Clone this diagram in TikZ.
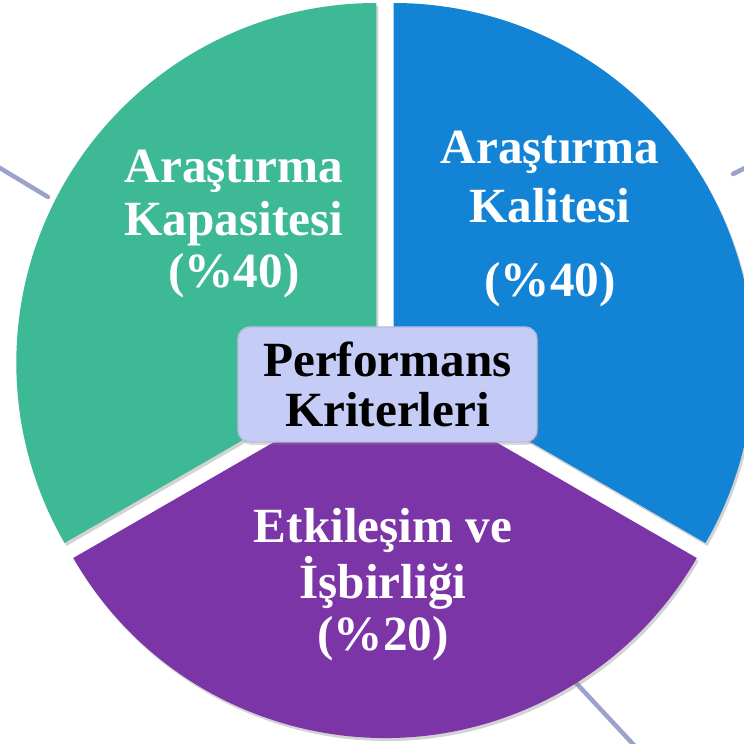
\documentclass[tikz,border=0pt]{standalone}
\usepackage{fontspec}
\setmainfont{Liberation Serif}
\usetikzlibrary{shadows}

\definecolor{kapasite}{RGB}{61,185,149}
\definecolor{kalite}{RGB}{19,131,214}
\definecolor{etkilesim}{RGB}{123,53,167}
\definecolor{kriter}{RGB}{197,204,246}
\definecolor{spokegray}{RGB}{155,163,205}

\begin{document}
\begin{tikzpicture}[
    slice/.style={drop shadow={opacity=.35, shadow xshift=.02cm, shadow yshift=-.03cm}},
    slicetext/.style={white, align=center, font=\fontsize{14}{14.8}\selectfont\bfseries},
    critbox/.style={fill=kriter, draw=kriter!80!gray, thin, rounded corners=.12cm,
        minimum width=2.99cm, minimum height=1.15cm, inner sep=0pt, align=center,
        font=\fontsize{14}{14.2}\selectfont\bfseries,
        drop shadow={opacity=.3, shadow xshift=.02cm, shadow yshift=-.03cm}},
    spoke/.style={spokegray, line width=.045cm, line cap=round}
        ]

    \path [use as bounding box] (0,0) rectangle (7.44,7.44);
    \clip (0,0) rectangle (7.44,7.44);

    % pie centre O = (3.85, 3.76), r = 3.6
    % each slice pushed out .1 along its bisector (150, 30, 270 deg)
    \coordinate (G) at (3.763, 3.81);
    \coordinate (B) at (3.937, 3.81);
    \coordinate (P) at (3.85, 3.66);

    % free ends of the grey spokes behind the pie
    \coordinate (S1a) at (-.2, 5.88);
    \coordinate (S1b) at (.48, 5.47);
    \coordinate (S2a) at (7.33, 5.70);
    \coordinate (S2b) at (7.6, 5.835);
    \coordinate (S3a) at (5.70, .676);
    \coordinate (S3b) at (6.45, -.13);

    \draw [spoke] (S1a) -- (S1b);
    \draw [spoke] (S2a) -- (S2b);
    \draw [spoke] (S3a) -- (S3b);

    \fill [kapasite, slice] (G) -- ++(90:3.6) arc (90:210:3.6) -- cycle;
    \fill [kalite, slice] (B) -- ++(-30:3.6) arc (-30:90:3.6) -- cycle;
    \fill [etkilesim, slice] (P) -- ++(210:3.6) arc (210:330:3.6) -- cycle;

    \node [slicetext] (kapasitesi) at (2.34, 5.2) {Araştırma\\Kapasitesi\\(\%40)};
    \node [slicetext, font=\fontsize{14}{16.7}\selectfont\bfseries] (kalitesi) at (5.50, 5.25)
        {Araştırma\\Kalitesi\\[4.5pt](\%40)};
    \node [slicetext] (etkilesim) at (3.83, 1.59) {Etkileşim ve\\İşbirliği\\(\%20)};

    \node [critbox] (kriterler) at (3.875, 3.595) {Performans\\Kriterleri};

\end{tikzpicture}
\end{document}
